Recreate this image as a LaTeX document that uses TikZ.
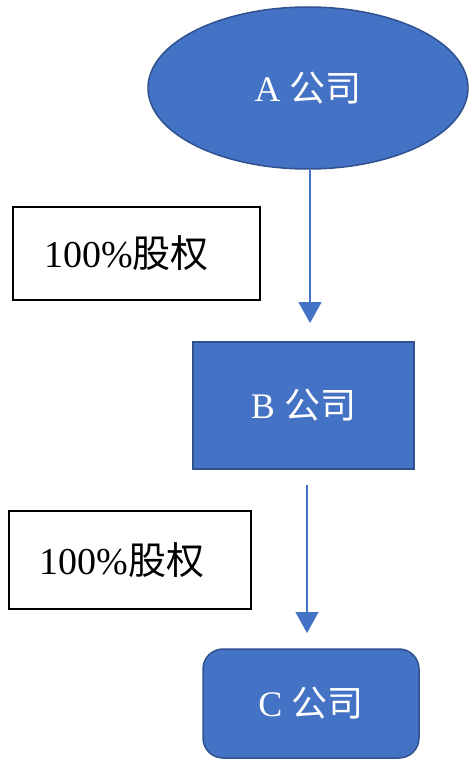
\documentclass[tikz,border=0pt]{standalone}
\usepackage{fontspec}
\setmainfont{Liberation Serif}
\newfontfamily\cjk{Noto Sans CJK SC}
\usetikzlibrary{shapes.geometric,arrows.meta}
\definecolor{compblue}{HTML}{4472C4}
\definecolor{compline}{HTML}{2F528F}
\begin{document}
\begin{tikzpicture}
  [x=1pt,y=-1pt,
   every node/.style={inner sep=0pt,font=\fontsize{36}{40}\selectfont},
   company/.style={fill=compblue,draw=compline,line width=1.5pt,text=white},
   sharebox/.style={draw=black,line width=1.5pt,fill=white,font=\fontsize{38}{42}\selectfont},
   link/.style={line width=1.5pt,compblue,-{Triangle[width=23pt,length=21pt]}}]
\useasboundingbox (0,0) rectangle (471,760);

\node (nA)[company,ellipse,minimum width=320pt,minimum height=162pt] at (308,88) {A {\cjk 公司}};
  \node (nB)[company,rectangle,minimum width=221pt,minimum height=127pt] at (303.5,405.5) {B {\cjk 公司}};
  \node (nC)[company,rectangle,rounded corners=20pt,minimum width=216pt,minimum height=109pt] at (311,703.5) {C {\cjk 公司}};

  \node (s1)[sharebox,minimum width=247pt,minimum height=93pt] at (136.5,253.5) {100\%{\cjk 股权}\kern20pt};
  \node (s2)[sharebox,minimum width=242pt,minimum height=98pt] at (130,560) {100\%{\cjk 股权}\kern16pt};

  \coordinate (t1) at (310,323);
  \coordinate (f2) at (307,485);
  \coordinate (t2) at (307,633);

 \path [link] (nA.south -| t1) edge (t1);

    \path [link] (f2) edge (t2);
;
\end{tikzpicture}
\end{document}
